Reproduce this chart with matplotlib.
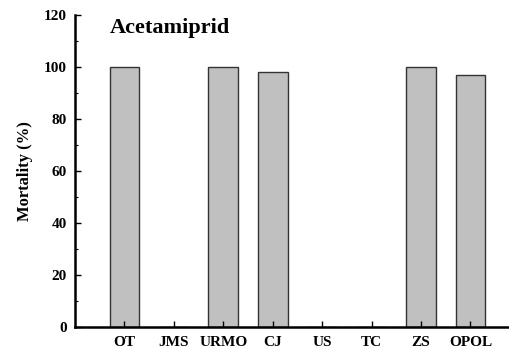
import numpy as np
import matplotlib.pyplot as plt

plt.rcParams['font.family'] = ['Liberation Serif', 'DejaVu Serif']
plt.rcParams['font.weight'] = 'bold'

populations = ['OT', 'JMS', 'URMO', 'CJ', 'US', 'TC', 'ZS', 'OPOL']
mortality = [100, 0, 100, 98, 0, 0, 100, 97]
title = 'Acetamiprid'


def plot_mortality(categories, values, title):
    fig = plt.figure(figsize=(5.10, 3.49), dpi=100)
    ax = fig.add_axes([0.147, 0.064, 0.853, 0.892])

    x = np.arange(len(categories))
    ax.bar(x, values, width=0.6, color='#c0c0c0', edgecolor='#333333', linewidth=1.0)

    ax.set_xlim(-1.0, 7.8)
    ax.set_ylim(0, 120)
    ax.set_xticks(x)
    ax.set_xticklabels(categories, fontsize=11, fontweight='bold')
    ax.set_yticks(np.arange(0, 121, 20))
    ax.set_yticks(np.arange(10, 120, 20), minor=True)
    ax.tick_params(axis='both', which='major', direction='in', length=4, width=1.0, labelsize=11)
    ax.tick_params(axis='y', which='minor', direction='in', length=2, width=0.8)
    ax.tick_params(axis='x', pad=7)
    ax.tick_params(axis='y', pad=6)

    for side in ['top', 'right']:
        ax.spines[side].set_visible(False)
    for side in ['left', 'bottom']:
        ax.spines[side].set_linewidth(1.8)

    ax.set_ylabel('Mortality (%)', fontsize=12, fontweight='bold')
    ax.yaxis.set_label_coords(-0.097, 0.5)
    ax.text(0.08, 0.99, title, transform=ax.transAxes, fontsize=16,
            fontweight='bold', va='top', ha='left')

    fig.savefig('out.png', dpi=100)


plot_mortality(populations, mortality, title)
